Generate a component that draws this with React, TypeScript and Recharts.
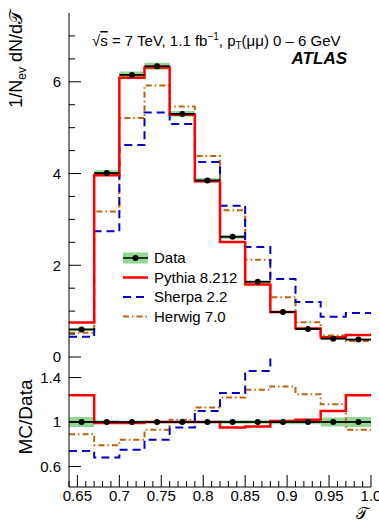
import React from "react";
import {
  ComposedChart,
  Line,
  Area,
  Scatter,
  ErrorBar,
  XAxis,
  YAxis,
  Legend,
} from "recharts";

// bin edges in tau
const binEdges = [0.64, 0.67, 0.7, 0.73, 0.76, 0.79, 0.82, 0.85, 0.88, 0.91, 0.94, 0.97, 1.0];

// 1/N dN/dtau
const dataVals = [0.6, 4.01, 6.15, 6.34, 5.3, 3.85, 2.62, 1.64, 0.98, 0.61, 0.4, 0.38];
const pythiaVals = [0.75, 3.96, 6.09, 6.31, 5.28, 3.83, 2.51, 1.58, 0.98, 0.62, 0.43, 0.48];
const sherpaVals = [0.44, 2.74, 4.62, 5.33, 5.08, 4.25, 3.3, 2.4, 1.7, 1.2, 0.88, 0.96];
const herwigVals = [0.53, 3.17, 5.21, 5.92, 5.46, 4.38, 3.2, 2.12, 1.3, 0.76, 0.47, 0.35];

// MC/Data
const pythiaRatio = [1.24, 0.99, 0.99, 1.0, 1.0, 1.0, 0.95, 0.96, 1.01, 1.02, 1.1, 1.24];
const sherpaRatio = [0.74, 0.68, 0.75, 0.84, 0.95, 1.1, 1.26, 1.46, 1.73, 1.97, 2.2, 2.5];
const herwigRatio = [0.89, 0.79, 0.84, 0.93, 1.02, 1.13, 1.22, 1.29, 1.32, 1.25, 1.16, 0.93];

// relative data uncertainty (green band)
const dataRelErr = [0.045, 0.015, 0.012, 0.012, 0.012, 0.012, 0.015, 0.015, 0.02, 0.02, 0.04, 0.045];

// ticks
const xTicks = [
  0.64, 0.65, 0.66, 0.67, 0.68, 0.69, 0.7, 0.71, 0.72, 0.73, 0.74, 0.75, 0.76, 0.77, 0.78, 0.79,
  0.8, 0.81, 0.82, 0.83, 0.84, 0.85, 0.86, 0.87, 0.88, 0.89, 0.9, 0.91, 0.92, 0.93, 0.94, 0.95,
  0.96, 0.97, 0.98, 0.99, 1.0,
];
const xMajorTicks = [0.65, 0.7, 0.75, 0.8, 0.85, 0.9, 0.95, 1.0];
const xMajorLabels = ["0.65", "0.7", "0.75", "0.8", "0.85", "0.9", "0.95", "1.0"];
const yTicksTop = [0, 0.5, 1, 1.5, 2, 2.5, 3, 3.5, 4, 4.5, 5, 5.5, 6, 6.5, 7];
const yMajorTop = [0, 2, 4, 6];
const yMajorTopLabels = ["0", "2", "4", "6"];
const yTicksRatio = [0.6, 1, 1.4];
const yRatioLabels = ["0.6", "1", "1.4"];

const legendLabels = ["Data", "Pythia 8.212", "Sherpa 2.2", "Herwig 7.0"];

const FONT = "'Liberation Sans', Arial, Helvetica, sans-serif";
const RED = "#ff0000";
const BLUE = "#0000c8";
const BROWN = "#c0620e";
const GREEN = "#92d892";
const SHERPA_DASH = "8 5";
const HERWIG_DASH = "6 3 1.5 3";

const findIdx = (v: number, list: number[]) => list.findIndex((m) => Math.abs(m - v) < 1e-6);

const histRows = binEdges.map((x, i) => {
  const j = Math.min(i, dataVals.length - 1);
  return {
    x,
    pythia: pythiaVals[j],
    sherpa: sherpaVals[j],
    herwig: herwigVals[j],
    band: [dataVals[j] * (1 - dataRelErr[j]), dataVals[j] * (1 + dataRelErr[j])],
  };
});

const ratioRows = binEdges.map((x, i) => {
  const j = Math.min(i, dataVals.length - 1);
  return {
    x,
    pythia: pythiaRatio[j],
    sherpa: sherpaRatio[j],
    herwig: herwigRatio[j],
    band: [1 - dataRelErr[j], 1 + dataRelErr[j]],
  };
});

const dataPoints = dataVals.map((y, i) => ({
  x: (binEdges[i] + binEdges[i + 1]) / 2,
  y,
  xerr: (binEdges[i + 1] - binEdges[i]) / 2,
}));

const ratioPoints = dataVals.map((_, i) => ({
  x: (binEdges[i] + binEdges[i + 1]) / 2,
  y: 1,
  xerr: (binEdges[i + 1] - binEdges[i]) / 2,
}));

function XTick(props: any) {
  const { x, y, payload, side, showLabel } = props;
  const idx = findIdx(payload.value, xMajorTicks);
  const len = idx >= 0 ? 12 : 6;
  const dir = side === "bottom" ? -1 : 1;
  return (
    <g>
      <line x1={x} x2={x} y1={y} y2={y + dir * len} stroke="#000" strokeWidth={1} />
      {showLabel && idx >= 0 && (
        <text x={x} y={y + 14} textAnchor="middle" fontSize={15} fontFamily={FONT} fill="#000">
          {xMajorLabels[idx]}
        </text>
      )}
    </g>
  );
}

function YTick(props: any) {
  const { x, y, payload, side, majors, labels, showLabel } = props;
  const idx = findIdx(payload.value, majors);
  const len = idx >= 0 ? 12 : 6;
  const dir = side === "left" ? 1 : -1;
  return (
    <g>
      <line x1={x} x2={x + dir * len} y1={y} y2={y} stroke="#000" strokeWidth={1} />
      {showLabel && idx >= 0 && (
        <text x={x - 8} y={y} dy="0.36em" textAnchor="end" fontSize={15} fontFamily={FONT} fill="#000">
          {labels[idx]}
        </text>
      )}
    </g>
  );
}

const dot = (p: any) => <circle cx={p.cx} cy={p.cy} r={3} fill="#000" />;

function LegendBox() {
  const rowY = [10, 29.5, 49, 68.5];
  return (
    <svg width={140} height={80} style={{ fontFamily: FONT }}>
      <rect x={0} y={rowY[0] - 5.5} width={25} height={11} fill={GREEN} />
      <line x1={0} x2={25} y1={rowY[0]} y2={rowY[0]} stroke="#000" strokeWidth={1.5} />
      <circle cx={12.5} cy={rowY[0]} r={3} fill="#000" />
      <line x1={0} x2={25} y1={rowY[1]} y2={rowY[1]} stroke={RED} strokeWidth={2.5} />
      <line x1={0} x2={25} y1={rowY[2]} y2={rowY[2]} stroke={BLUE} strokeWidth={2} strokeDasharray={SHERPA_DASH} />
      <line x1={0} x2={25} y1={rowY[3]} y2={rowY[3]} stroke={BROWN} strokeWidth={2} strokeDasharray={HERWIG_DASH} />
      {legendLabels.map((t, i) => (
        <text key={t} x={31} y={rowY[i] + 5.4} fontSize={15} fill="#000">
          {t}
        </text>
      ))}
    </svg>
  );
}

function axisPair(showLabel: boolean) {
  return [
    <XAxis
      key="xb"
      xAxisId="b"
      dataKey="x"
      type="number"
      domain={[0.64, 1.0]}
      ticks={xTicks}
      interval={0}
      tickSize={0}
      tickMargin={0}
      tickLine={false}
      allowDataOverflow
      axisLine={{ stroke: "#000" }}
      height={showLabel ? 35 : 0}
      tick={(p: any) => <XTick {...p} side="bottom" showLabel={showLabel} />}
    />,
    <XAxis
      key="xt"
      xAxisId="t"
      orientation="top"
      dataKey="x"
      type="number"
      domain={[0.64, 1.0]}
      ticks={xTicks}
      interval={0}
      tickSize={0}
      tickMargin={0}
      tickLine={false}
      allowDataOverflow
      axisLine={{ stroke: "#000" }}
      height={0}
      tick={(p: any) => <XTick {...p} side="top" showLabel={false} />}
    />,
  ];
}

export default function App() {
  return (
    <div style={{ position: "absolute", left: 0, top: 0, width: 379, height: 522, background: "#fff", overflow: "hidden" }}>
      <div style={{ position: "absolute", left: 0, top: 0 }}>
        <ComposedChart width={379} height={370} data={histRows} margin={{ top: 13, right: 8, bottom: 13, left: 0 }}>
          {axisPair(false)}
          <YAxis
            yAxisId="l"
            type="number"
            domain={[0, 7.5]}
            ticks={yTicksTop}
            interval={0}
            width={69}
            tickSize={0}
            tickMargin={0}
            tickLine={false}
            allowDataOverflow
            axisLine={{ stroke: "#000" }}
            tick={(p: any) => <YTick {...p} side="left" majors={yMajorTop} labels={yMajorTopLabels} showLabel />}
          />
          <YAxis
            yAxisId="r"
            orientation="right"
            type="number"
            domain={[0, 7.5]}
            ticks={yTicksTop}
            interval={0}
            width={0}
            tickSize={0}
            tickMargin={0}
            tickLine={false}
            allowDataOverflow
            axisLine={{ stroke: "#000" }}
            tick={(p: any) => <YTick {...p} side="right" majors={yMajorTop} labels={yMajorTopLabels} showLabel={false} />}
          />
          <Area xAxisId="b" yAxisId="l" type="stepAfter" dataKey="band" fill={GREEN} fillOpacity={1} stroke="none" isAnimationActive={false} />
          <Line xAxisId="b" yAxisId="l" type="stepAfter" dataKey="herwig" stroke={BROWN} strokeWidth={2} strokeDasharray={HERWIG_DASH} dot={false} activeDot={false} isAnimationActive={false} />
          <Line xAxisId="b" yAxisId="l" type="stepAfter" dataKey="sherpa" stroke={BLUE} strokeWidth={2} strokeDasharray={SHERPA_DASH} dot={false} activeDot={false} isAnimationActive={false} />
          <Line xAxisId="b" yAxisId="l" type="stepAfter" dataKey="pythia" stroke={RED} strokeWidth={2.5} dot={false} activeDot={false} isAnimationActive={false} />
          <Scatter xAxisId="b" yAxisId="l" data={dataPoints} dataKey="y" shape={dot} isAnimationActive={false}>
            <ErrorBar dataKey="xerr" direction="x" width={0} stroke="#000" strokeWidth={1.8} />
          </Scatter>
          <Legend
            layout="horizontal"
            verticalAlign="middle"
            align="center"
            content={() => <LegendBox />}
            wrapperStyle={{ position: "absolute", left: 123, top: 248, width: 140, height: 80 }}
          />
        </ComposedChart>
      </div>
      <div style={{ position: "absolute", left: 0, top: 340 }}>
        <ComposedChart width={379} height={182} data={ratioRows} margin={{ top: 17, right: 8, bottom: 0, left: 0 }}>
          {axisPair(true)}
          <YAxis
            yAxisId="l"
            type="number"
            domain={[0.415, 1.585]}
            ticks={yTicksRatio}
            interval={0}
            width={69}
            tickSize={0}
            tickMargin={0}
            tickLine={false}
            allowDataOverflow
            axisLine={{ stroke: "#000" }}
            tick={(p: any) => <YTick {...p} side="left" majors={yTicksRatio} labels={yRatioLabels} showLabel />}
          />
          <YAxis
            yAxisId="r"
            orientation="right"
            type="number"
            domain={[0.415, 1.585]}
            ticks={yTicksRatio}
            interval={0}
            width={0}
            tickSize={0}
            tickMargin={0}
            tickLine={false}
            allowDataOverflow
            axisLine={{ stroke: "#000" }}
            tick={(p: any) => <YTick {...p} side="right" majors={yTicksRatio} labels={yRatioLabels} showLabel={false} />}
          />
          <Area xAxisId="b" yAxisId="l" type="stepAfter" dataKey="band" fill={GREEN} fillOpacity={1} stroke="none" isAnimationActive={false} />
          <Line xAxisId="b" yAxisId="l" type="stepAfter" dataKey="herwig" stroke={BROWN} strokeWidth={2} strokeDasharray={HERWIG_DASH} dot={false} activeDot={false} isAnimationActive={false} />
          <Line xAxisId="b" yAxisId="l" type="stepAfter" dataKey="sherpa" stroke={BLUE} strokeWidth={2} strokeDasharray={SHERPA_DASH} dot={false} activeDot={false} isAnimationActive={false} />
          <Line xAxisId="b" yAxisId="l" type="stepAfter" dataKey="pythia" stroke={RED} strokeWidth={2.5} dot={false} activeDot={false} isAnimationActive={false} />
          <Scatter xAxisId="b" yAxisId="l" data={ratioPoints} dataKey="y" shape={dot} isAnimationActive={false}>
            <ErrorBar dataKey="xerr" direction="x" width={0} stroke="#000" strokeWidth={1.8} />
          </Scatter>
        </ComposedChart>
      </div>
      <svg width={379} height={522} style={{ position: "absolute", left: 0, top: 0, pointerEvents: "none", fontFamily: FONT }}>
        <text x={92} y={46} fontSize={15} fill="#000">
          √<tspan textDecoration="overline" style={{ textDecoration: "overline" }}>s</tspan> = 7 TeV, 1.1 fb
          <tspan dy={-6} fontSize={10}>−1</tspan>
          <tspan dy={6}>, p</tspan>
          <tspan dy={3} fontSize={10}>T</tspan>
          <tspan dy={-3}>(μμ) 0 – 6 GeV</tspan>
        </text>
        <text x={347} y={64} fontSize={17} fontWeight="bold" fontStyle="italic" textAnchor="end" fill="#000">
          ATLAS
        </text>
        <text transform="translate(22,10) rotate(-90)" fontSize={18} textAnchor="end" fill="#000">
          1/N<tspan dy={4} fontSize={12}>ev</tspan>
          <tspan dy={-4}> dN/d𝒯</tspan>
        </text>
        <text transform="translate(32,417) rotate(-90)" fontSize={19} textAnchor="middle" fill="#000">
          MC/Data
        </text>
        <text x={362} y={519} fontSize={16} textAnchor="middle" fill="#000">
          𝒯
        </text>
      </svg>
    </div>
  );
}
